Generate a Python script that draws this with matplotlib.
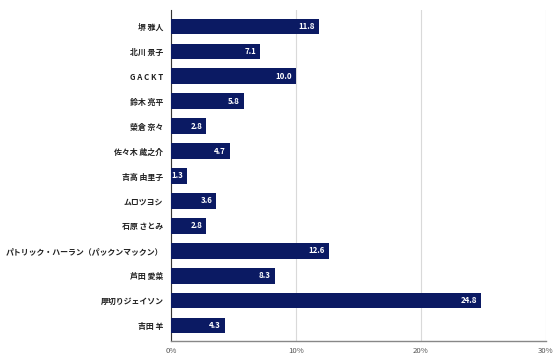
import matplotlib
matplotlib.use('Agg')
import matplotlib.pyplot as plt
import numpy as np

plt.rcParams['font.family'] = ['Noto Sans CJK JP', 'DejaVu Sans']

names = ['堺 雅人', '北川 景子', 'G A C K T', '鈴木 亮平', '榮倉 奈々', '佐々木 蔵之介',
         '吉高 由里子', 'ムロツヨシ', '石原 さとみ', 'パトリック・ハーラン（パックンマックン）',
         '芦田 愛菜', '厚切りジェイソン', '吉田 羊']
values = [11.8, 7.1, 10.0, 5.8, 2.8, 4.7, 1.3, 3.6, 2.8, 12.6, 8.3, 24.8, 4.3]
xticks = [0, 10, 20, 30]

bar_color = '#0b1a63'

fig = plt.figure(figsize=(5.58, 3.59), dpi=100)
ax = fig.add_axes([171 / 558, 1 - 341 / 359, 375 / 558, 331 / 359])

y = np.arange(len(names))
ax.barh(y, values, height=0.63, color=bar_color, zorder=3)

for yi, v in zip(y, values):
    ax.text(v - 0.3, yi, f'{v:.1f}', ha='right', va='center', color='white',
            fontsize=5.7, fontweight='bold', zorder=4)

ax.set_xlim(0, 30)
ax.set_ylim(12.62, -0.66)
ax.set_yticks(y)
ax.set_yticklabels(names, fontsize=5.7, fontweight='bold', color='#222222')
ax.set_xticks(xticks)
ax.set_xticklabels([f'{t}%' for t in xticks], fontsize=5.6, color='#555555')
ax.tick_params(axis='y', length=0, pad=5.5)
ax.tick_params(axis='x', length=0, pad=4)

ax.grid(True, axis='x', color='#d9d9d9', linewidth=0.8, zorder=0)
for s in ['top', 'right']:
    ax.spines[s].set_visible(False)
ax.spines['left'].set_color('#333333')
ax.spines['left'].set_linewidth(0.8)
ax.spines['bottom'].set_color('#888888')
ax.spines['bottom'].set_linewidth(1.0)

fig.savefig('out.png', dpi=100)
